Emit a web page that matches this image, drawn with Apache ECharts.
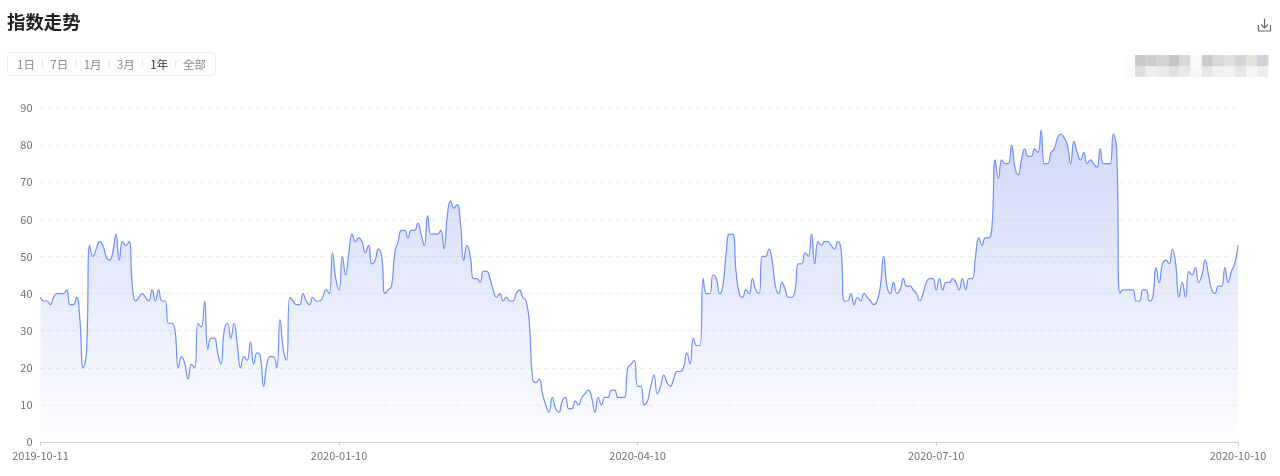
<!DOCTYPE html>
<html><head><meta charset="utf-8">
<style>html,body{margin:0;padding:0;background:#fff}#c{width:1280px;height:476px}</style>
<script src="https://cdn.jsdelivr.net/npm/echarts@6/dist/echarts.min.js"></script>
</head><body><div id="c"></div>
<script>
const titleText = '指数走势';
const rangeTabs = ['1日','7日','1月','3月','1年','全部'];
const activeTab = '1年';
const labelledDays = [0,91,182,273,365];
const yTicks = {min:0,max:90,interval:10};
const indexQ4 = [39,38,38,37,39,40,40,40,41,37,37,39,33,20,24,53,50,52,54,53,50,49,51,56,49,54,53,54,42,38,39,40,39,38,41,38,41,38,38,32,32,30,20,23,21,17,21,20,32,31,38,25,28,28,24,21,30,32,28,32,26,20,23,22,27,21,24,23,15,21,23,23,20,33,25,22,39,38,37,37,40,38,37,39,38,38,39,41,40,51,44];
const indexQ1 = [41,50,45,51,56,54,55,54,51,53,48,49,52,50,40,41,42,51,54,57,57,55,57,57,59,56,53,61,56,56,56,57,52,61,65,63,64,59,49,53,50,44,44,43,46,46,44,41,39,40,38,39,38,38,40,41,39,38,32,17,16,17,13,10,8,12,9,8,11,12,9,9,11,10,12,13,14,12,8,12,10,12,12,14,14,12,12,12,20,21,22];
const indexQ2 = [15,15,10,11,15,18,13,15,18,16,15,17,19,19,20,24,21,28,26,26,44,40,40,45,44,40,42,51,56,56,46,40,39,41,40,44,41,40,50,50,52,49,42,40,43,41,39,39,41,48,48,51,50,56,48,54,53,54,54,53,52,54,52,38,38,40,37,39,38,40,39,38,37,38,42,50,42,40,43,40,41,44,42,42,41,40,38,40,43,44,44,41,44,41,43,43,44,43,41];
const indexQ3 = [44,41,44,44,50,55,53,55,55,58,76,71,76,75,75,80,74,72,76,79,77,77,79,78,84,75,75,78,79,82,83,82,80,75,81,78,76,78,75,76,75,74,79,75,75,75,83,79,40,41,41,41,41,38,38,41,41,38,39,47,43,48,49,48,52,48,39,43,39,46,45,47,43,45,49,45,41,40,42,42,47,43,46,48,53];
const indexValues = [...indexQ4,...indexQ1,...indexQ2,...indexQ3];

const mosaicTop = ['#fdfdfd','#c9c9c9','#cdcdcd','#d3d3d3','#c6c6c6','#d7d9d8','#fafafa','#cbcbcb','#d9d9d9','#dfdfe1','#d4d3d5','#e0e0de','#d0d0d6'];
const mosaicBottom = ['#fbfbfb','#dfdfdf','#ededed','#e8e8e8','#e0e0e0','#e8eaea','#f7f7f7','#e6e6e8','#f1f1f3','#f3f3f5','#e5e5e5','#f6f6f6','#ebeded'];

const categories = [];
{const d0 = Date.UTC(2019,9,11);
 for(let i=0;i<indexValues.length;i++){categories.push(new Date(d0+i*864e5).toISOString().slice(0,10));}}

const FONT = '"Noto Sans CJK SC","Noto Sans",sans-serif';
const graphics = [];
graphics.push({type:'text',left:7,top:12.5,style:{text:titleText,font:'bold 18.4px '+FONT,fill:'#222'}});
graphics.push({type:'rect',shape:{x:7.5,y:52.5,width:208,height:23,r:3},style:{fill:'#fff',stroke:'#ececec',lineWidth:1}});
rangeTabs.forEach((t,i)=>{
  const cx = 26+i*33.3 + (i===5?2:0);
  graphics.push({type:'text',x:cx,y:64.5,style:{text:t,font:'11.5px '+FONT,fill:t===activeTab?'#333':'#888',align:'center',verticalAlign:'middle'}});
  if(i<5) graphics.push({type:'line',shape:{x1:42.5+i*33.3,y1:60,x2:42.5+i*33.3,y2:67},style:{stroke:'#e0e0e0',lineWidth:1}});
});
// download icon
graphics.push({type:'polyline',shape:{points:[[1258.5,25],[1258.5,31],[1270.5,31],[1270.5,25]]},style:{stroke:'#666',lineWidth:1.2,fill:'none'}});
graphics.push({type:'line',shape:{x1:1264.5,y1:18.5,x2:1264.5,y2:28},style:{stroke:'#666',lineWidth:1.2}});
graphics.push({type:'polyline',shape:{points:[[1261,24.5],[1264.5,28],[1268,24.5]]},style:{stroke:'#666',lineWidth:1.2,fill:'none'}});
// blurred block
mosaicTop.forEach((c,i)=>{ graphics.push({type:'rect',shape:{x:1124+i*11.1,y:55,width:11.2,height:11},style:{fill:c}}); });
mosaicBottom.forEach((c,i)=>{ graphics.push({type:'rect',shape:{x:1124+i*11.1,y:66,width:11.2,height:11},style:{fill:c}}); });

const chart = echarts.init(document.getElementById('c'),null,{renderer:'canvas'});
const showLabel = i => labelledDays.includes(i);
chart.setOption({
  animation:false,
  graphic:graphics,
  grid:{left:40.5,right:42,top:108,bottom:34,containLabel:false},
  xAxis:{type:'category',data:categories,boundaryGap:false,
    axisLine:{lineStyle:{color:'#d0d0d0'}},
    axisTick:{interval:showLabel,length:4,lineStyle:{color:'#d0d0d0'}},
    axisLabel:{interval:showLabel,color:'#707070',fontSize:11,fontFamily:FONT,margin:8,showMinLabel:true,showMaxLabel:true,hideOverlap:false},
    splitLine:{show:false}},
  yAxis:{type:'value',min:yTicks.min,max:yTicks.max,interval:yTicks.interval,
    axisLine:{show:false},axisTick:{show:false},
    axisLabel:{color:'#707070',fontSize:11,fontFamily:FONT,margin:8},
    splitLine:{lineStyle:{type:[4,4],color:'#ececec'}}},
  series:[{type:'line',data:indexValues,showSymbol:false,smooth:0.5,
    lineStyle:{color:'#6f8ff7',width:1.2},
    areaStyle:{opacity:1,color:new echarts.graphic.LinearGradient(0,0,0,1,[{offset:0,color:'rgba(100,125,235,0.30)'},{offset:1,color:'rgba(100,125,235,0.01)'}])}}]
});
</script></body></html>
